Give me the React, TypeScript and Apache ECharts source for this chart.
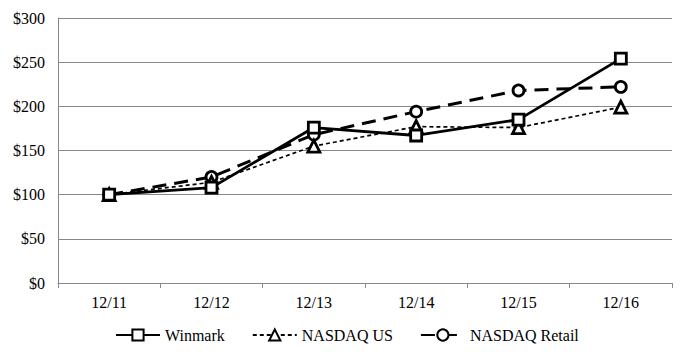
import React, { useEffect, useRef } from "react";
import * as echarts from "echarts";

const categories = ["12/11", "12/12", "12/13", "12/14", "12/15", "12/16"];
const winmark = [100, 108, 176, 167, 185, 254];
const nasdaqUS = [100, 114, 155, 177, 176, 199];
const nasdaqRetail = [100, 120, 168, 194, 218, 222];

const FONT = "Liberation Serif";

export default function App() {
  const ref = useRef<HTMLDivElement>(null);
  useEffect(() => {
    if (!ref.current) return;
    const chart = echarts.init(ref.current, null, { renderer: "svg" });
    const markerStyle = { color: "#fff", borderColor: "#000", borderWidth: 2.8 };
    chart.setOption({
      animation: false,
      textStyle: { fontFamily: FONT },
      grid: { left: 58, right: 19, top: 18, bottom: 77, containLabel: false },
      legend: {
        top: 322,
        left: 110,
        itemWidth: 44,
        itemHeight: 14,
        itemGap: 27,
        textStyle: { fontFamily: FONT, fontSize: 16, color: "#000" },
        data: ["Winmark", "NASDAQ US", "NASDAQ Retail"],
      },
      xAxis: {
        type: "category",
        data: categories,
        boundaryGap: true,
        axisLine: { lineStyle: { color: "#888", width: 1 } },
        axisTick: { show: true, length: 5, lineStyle: { color: "#888" } },
        axisLabel: { color: "#000", fontFamily: FONT, fontSize: 16, margin: 11 },
      },
      yAxis: {
        type: "value",
        min: 0,
        max: 300,
        interval: 50,
        axisLine: { show: true, lineStyle: { color: "#888", width: 1 } },
        axisTick: { show: false },
        splitLine: { lineStyle: { color: "#888", width: 1 } },
        axisLabel: {
          color: "#000",
          fontFamily: FONT,
          fontSize: 16,
          margin: 13,
          formatter: (v: number) => "$" + v,
        },
      },
      series: [
        {
          name: "Winmark",
          type: "line",
          data: winmark,
          symbol: "rect",
          symbolSize: 11,
          lineStyle: { color: "#000", width: 2.8, type: "solid" },
          itemStyle: markerStyle,
          z: 4,
        },
        {
          name: "NASDAQ US",
          type: "line",
          data: nasdaqUS,
          symbol: "triangle",
          symbolSize: 12,
          lineStyle: { color: "#000", width: 1.7, type: [4, 3] },
          itemStyle: markerStyle,
          z: 3,
        },
        {
          name: "NASDAQ Retail",
          type: "line",
          data: nasdaqRetail,
          symbol: "circle",
          symbolSize: 11,
          lineStyle: { color: "#000", width: 3, type: [14, 8] },
          itemStyle: markerStyle,
          z: 2,
        },
      ],
    });
    return () => chart.dispose();
  }, []);
  return <div ref={ref} style={{ width: 691, height: 360, position: "absolute", left: 0, top: 0 }} />;
}
